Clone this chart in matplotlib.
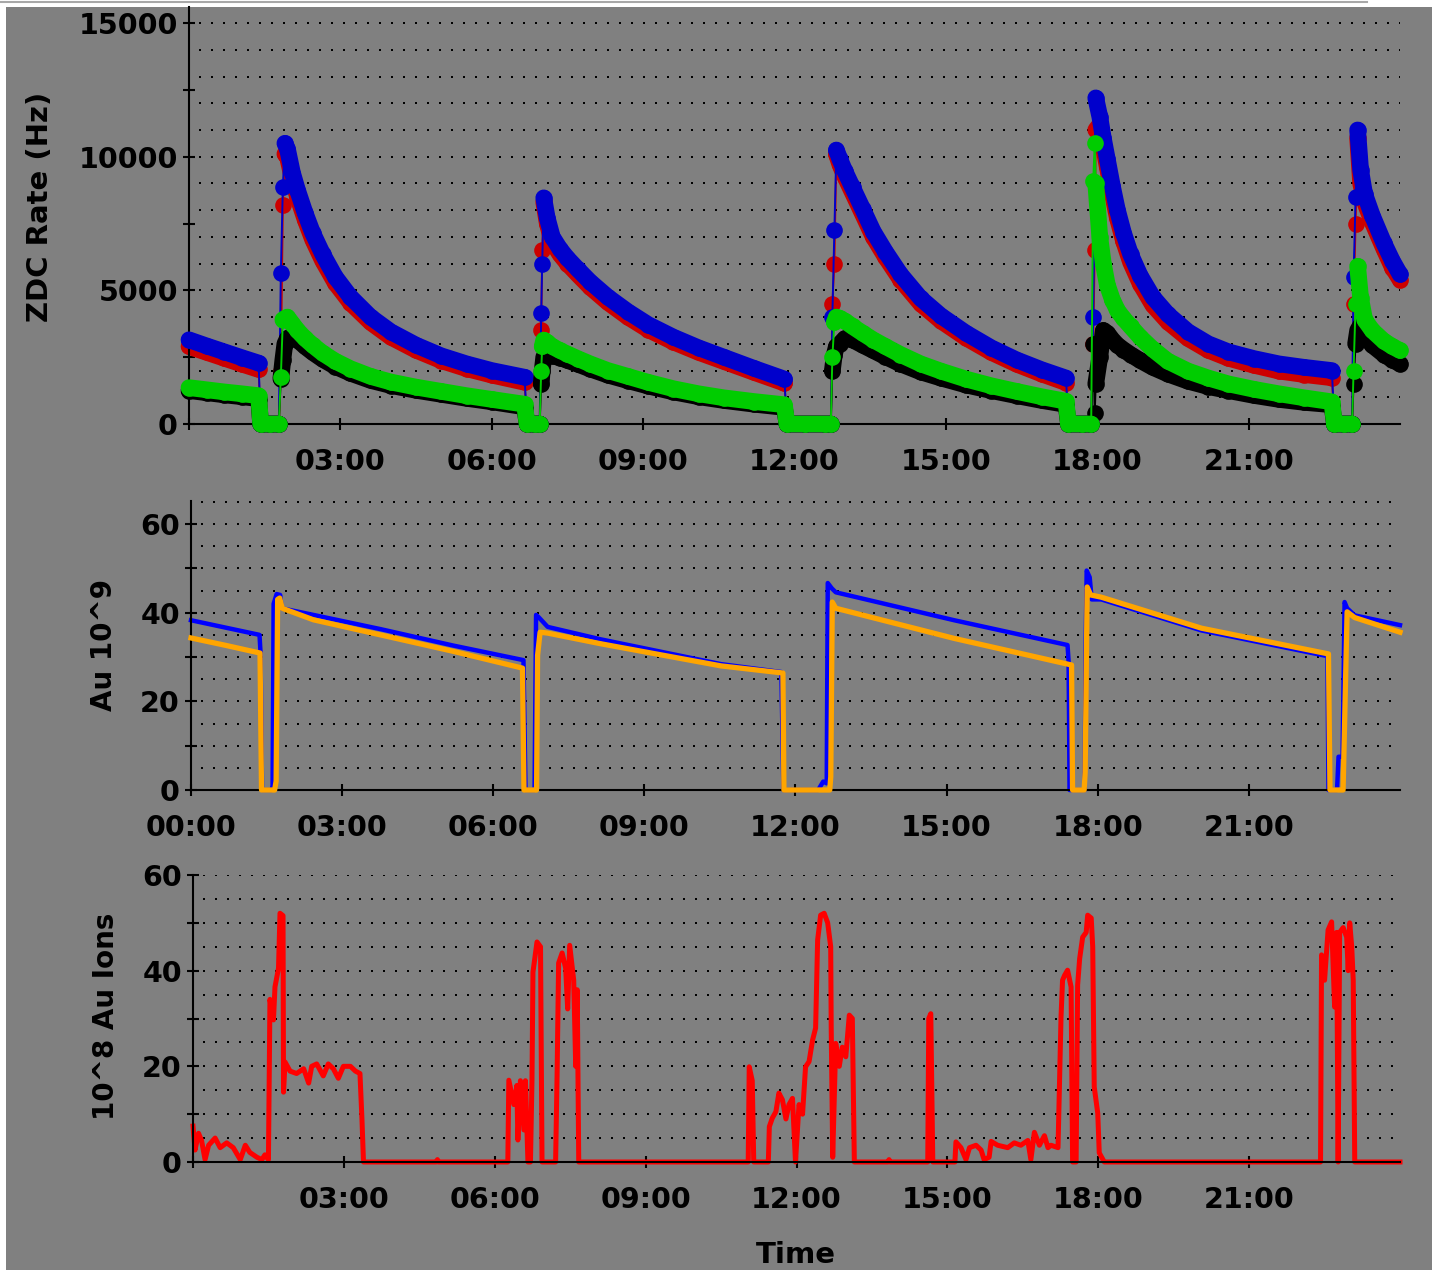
import numpy as np
import matplotlib
matplotlib.use("Agg")
import matplotlib.pyplot as plt
from matplotlib.patches import Rectangle
from matplotlib.lines import Line2D

plt.rcParams["font.family"] = ["DejaVu Sans"]
plt.rcParams["font.weight"] = "bold"
plt.rcParams["lines.scale_dashes"] = False

W, H = 1432, 1274

# ---- time axis (hours of the day) ----
hour_ticks = [0, 3, 6, 9, 12, 15, 18, 21]
hour_labels = ["00:00", "03:00", "06:00", "09:00", "12:00", "15:00", "18:00", "21:00"]

# ---- ZDC coincidence rates (Hz), common sample times (hours) ----
zdc_hours = [
    0.0, 0.35, 0.7, 1.05, 1.38,
    1.42, 1.6, 1.78,
    1.82, 1.86, 1.90,
    1.95, 2.05, 2.15, 2.3, 2.45, 2.65, 2.9, 3.2, 3.6, 4.0, 4.5, 5.0, 5.5, 6.0, 6.65,
    6.70, 6.85, 6.95,
    6.98, 7.00, 7.03,
    7.1, 7.2, 7.35, 7.5, 7.7, 7.95, 8.3, 8.7, 9.1, 9.6, 10.1, 10.6, 11.2, 11.8,
    11.85, 12.2, 12.6, 12.72,
    12.75, 12.79, 12.83,
    12.9, 13.0, 13.15, 13.35, 13.56, 13.8, 14.1, 14.5, 14.9, 15.4, 15.9, 16.4, 16.9, 17.38,
    17.43, 17.7, 17.88,
    17.92, 17.95, 17.97,
    18.05, 18.12, 18.2, 18.3, 18.4, 18.52, 18.66, 18.85, 19.1, 19.4, 19.8, 20.2, 20.6,
    21.1, 21.6, 22.1, 22.65,
    22.7, 22.9, 23.05,
    23.08, 23.12, 23.16,
    23.22, 23.3, 23.45, 23.68, 23.85, 24.0,
]
zdc_blue = [
    3150, 2920, 2700, 2480, 2280,
    0, 0, 0,
    5650, 8870, 10500,
    10300, 9400, 8750, 7900, 7150, 6350, 5500, 4750, 4000, 3450, 2950, 2550, 2250, 2000, 1750,
    0, 0, 0,
    4150, 6000, 8460,
    7700, 7000, 6550, 6200, 5800, 5320, 4750, 4200, 3720, 3250, 2850, 2500, 2080, 1680,
    0, 0, 0, 0,
    4000, 7250, 10250,
    9900, 9450, 8850, 8050, 7200, 6450, 5600, 4700, 4050, 3400, 2850, 2400, 2030, 1720,
    0, 0, 0,
    4000, 9000, 12200,
    11500, 10700, 9900, 8900, 8000, 7150, 6350, 5550, 4750, 4100, 3450, 3000, 2700,
    2450, 2250, 2120, 2000,
    0, 0, 0,
    5500, 8500, 11000,
    9500, 8600, 7800, 6770, 6100, 5600,
]
zdc_red = [
    2900, 2680, 2460, 2240, 2040,
    0, 0, 0,
    2000, 8200, 10100,
    10000, 9150, 8500, 7650, 6900, 6100, 5270, 4530, 3800, 3250, 2760, 2370, 2070, 1830, 1560,
    0, 0, 0,
    3500, 6500, 8300,
    7500, 6800, 6350, 6000, 5600, 5120, 4550, 4000, 3530, 3070, 2680, 2340, 1930, 1530,
    0, 0, 0, 0,
    4500, 6000, 10100,
    9700, 9250, 8650, 7850, 7000, 6250, 5400, 4500, 3860, 3220, 2680, 2240, 1870, 1550,
    0, 0, 0,
    3000, 6500, 11000,
    11200, 10400, 9600, 8600, 7700, 6850, 6050, 5250, 4450, 3820, 3200, 2760, 2460,
    2200, 1980, 1850, 1730,
    0, 0, 0,
    4500, 7500, 10700,
    9000, 8300, 7550, 6550, 5850, 5400,
]
zdc_green = [
    1360, 1280, 1200, 1130, 1060,
    0, 0, 0,
    1760, 3900, 3950,
    4000, 3750, 3500, 3200, 2950, 2650, 2350, 2070, 1780, 1570, 1380, 1220, 1060, 920, 740,
    0, 0, 0,
    2000, 2900, 3140,
    3050, 2900, 2750, 2620, 2450, 2250, 2000, 1780, 1560, 1320, 1130, 980, 840, 720,
    0, 0, 0, 0,
    2500, 3800, 4000,
    3950, 3850, 3650, 3400, 3150, 2900, 2600, 2250, 1980, 1680, 1430, 1220, 1020, 850,
    0, 0, 0,
    9100, 10500, 9000,
    7000, 6000, 5200, 4650, 4250, 3950, 3650, 3250, 2800, 2350, 1980, 1720, 1500,
    1300, 1130, 980, 830,
    0, 0, 0,
    2000, 4500, 5900,
    4700, 3900, 3500, 3100, 2900, 2750,
]
zdc_black = [
    1250, 1170, 1090, 1020, 950,
    0, 0, 0,
    1700, 2400, 3000,
    3200, 3300, 3150, 2900, 2680, 2420, 2150, 1900, 1630, 1440, 1260, 1110, 960, 830, 640,
    0, 0, 0,
    1500, 2000, 2500,
    2600, 2550, 2480, 2380, 2240, 2060, 1830, 1620, 1420, 1200, 1020, 880, 740, 620,
    0, 0, 0, 0,
    2000, 2600, 2900,
    3000, 3200, 3150, 2950, 2750, 2520, 2250, 1950, 1720, 1460, 1250, 1060, 880, 730,
    0, 0, 0,
    3000, 400, 1500,
    2500, 3500, 3400, 3150, 2950, 2780, 2600, 2380, 2120, 1870, 1600, 1400, 1250,
    1070, 920, 810, 720,
    0, 0, 0,
    1500, 3000, 3500,
    3700, 3300, 2950, 2600, 2400, 2250,
]

# ---- stored beam intensity, Au 10^9 (hour, value) ----
ring_blue = [
    (0.0, 38.3), (0.7, 36.6), (1.36, 35.0), (1.38, 31.0), (1.41, 0), (1.60, 0), (1.62, 1.0),
    (1.64, 42.0), (1.70, 44.2), (1.77, 44.0), (1.80, 41.0), (2.43, 39.5), (3.76, 36.3),
    (5.2, 32.6), (6.60, 29.3), (6.64, 0), (6.82, 0), (6.85, 39.5), (6.90, 39.0), (7.08, 36.8),
    (8.13, 34.0), (10.52, 28.4), (11.72, 26.6), (11.76, 0), (12.45, 0), (12.55, 1.9),
    (12.62, 1.5), (12.64, 46.7), (12.72, 45.5), (12.80, 44.6), (15.15, 38.3), (17.40, 32.7),
    (17.42, 29.3), (17.43, 16.5), (17.44, 0), (17.74, 0), (17.76, 32.0), (17.78, 49.5),
    (17.84, 48.0), (17.88, 43.0), (18.07, 43.0), (20.06, 36.0), (22.56, 30.2), (22.58, 0),
    (22.75, 0), (22.78, 7.5), (22.86, 7.5), (22.90, 42.4), (22.95, 41.0), (23.10, 39.4),
    (24.0, 37.2),
]
ring_orange = [
    (0.0, 34.3), (0.7, 32.6), (1.37, 30.9), (1.40, 0), (1.66, 0), (1.69, 2.0), (1.72, 43.0),
    (1.76, 43.3), (1.81, 41.0), (2.43, 38.4), (3.76, 35.0), (5.2, 31.3), (6.58, 27.5),
    (6.61, 0), (6.86, 0), (6.88, 30.4), (6.93, 35.6), (7.08, 35.4), (8.13, 33.0),
    (10.52, 28.0), (11.75, 26.4), (11.77, 0), (12.68, 0), (12.70, 3.0), (12.73, 42.4),
    (12.80, 41.0), (15.15, 34.2), (17.48, 28.2), (17.50, 0), (17.73, 0), (17.75, 4.0),
    (17.79, 45.8), (17.86, 44.0), (18.07, 43.5), (20.06, 36.5), (22.58, 30.7), (22.61, 0),
    (22.87, 0), (22.88, 5.0), (22.95, 40.2), (23.10, 38.9), (24.0, 35.6),
]

# ---- injected Au ions, 10^8 (hour, value) ----
injected = [
    (0.0, 7.5), (0.04, 2.5), (0.11, 6), (0.17, 4.5), (0.24, 0.5), (0.31, 3.5), (0.44, 5.0),
    (0.54, 3), (0.67, 4), (0.80, 3), (0.94, 0.5), (1.04, 3.5), (1.13, 2), (1.27, 1),
    (1.37, 0.5), (1.43, 1.5), (1.50, 0.5), (1.53, 34), (1.60, 29.7), (1.63, 36.6),
    (1.70, 40.5), (1.73, 52), (1.79, 51.5), (1.80, 14.6), (1.83, 20.9), (1.93, 19),
    (2.06, 18.5), (2.20, 19.5), (2.30, 16.5), (2.36, 20), (2.46, 20.5), (2.59, 18),
    (2.69, 20.5), (2.79, 19.5), (2.89, 17.5), (2.99, 20), (3.13, 20), (3.23, 19),
    (3.32, 18.5), (3.36, 8.8), (3.39, 0), (4.84, 0), (4.86, 0.5), (4.88, 0),
    (6.26, 0), (6.28, 17.1), (6.34, 14), (6.38, 12), (6.44, 16), (6.46, 4.6), (6.51, 17),
    (6.58, 6.7), (6.61, 17), (6.66, 0), (6.71, 0), (6.74, 17), (6.76, 39.7), (6.84, 46),
    (6.91, 45), (6.94, 0), (7.21, 0), (7.24, 18.6), (7.27, 41.6), (7.34, 43.7), (7.41, 40.5),
    (7.45, 32), (7.49, 45.3), (7.54, 40.8), (7.57, 38), (7.61, 20), (7.64, 36), (7.67, 0),
    (11.04, 0), (11.06, 19.9), (11.12, 17), (11.15, 0), (11.44, 0), (11.46, 7.4),
    (11.52, 9.2), (11.59, 10.5), (11.65, 14.4), (11.72, 13), (11.79, 9), (11.85, 12),
    (11.92, 13.3), (11.98, 0), (12.05, 12), (12.12, 10), (12.18, 19.9), (12.25, 21),
    (12.32, 25.5), (12.38, 28), (12.42, 46.4), (12.48, 51.6), (12.55, 52), (12.62, 50),
    (12.68, 45), (12.69, 28.2), (12.72, 1), (12.78, 24.8), (12.85, 20), (12.91, 24),
    (12.98, 22), (13.05, 30.7), (13.11, 30), (13.15, 0), (13.82, 0), (13.84, 0.5),
    (13.86, 0), (14.61, 0), (14.63, 30), (14.67, 31), (14.71, 0), (15.15, 0), (15.17, 4.2),
    (15.27, 3), (15.37, 0.5), (15.44, 3), (15.57, 3.5), (15.67, 2.5), (15.73, 0.5),
    (15.83, 1), (15.87, 4.3), (16.0, 3.5), (16.2, 3), (16.33, 4), (16.46, 3.5), (16.6, 4.5),
    (16.66, 0.5), (16.73, 6.2), (16.83, 3.5), (16.93, 5.5), (17.0, 3), (17.06, 3.5),
    (17.2, 3), (17.26, 30.4), (17.29, 38), (17.33, 39), (17.39, 40.1), (17.46, 36.6),
    (17.49, 0), (17.56, 0), (17.59, 37), (17.63, 42.5), (17.69, 47), (17.76, 48),
    (17.79, 51.6), (17.86, 51), (17.89, 45), (17.92, 15.7), (17.99, 10.2), (18.02, 1.9),
    (18.12, 0), (22.42, 0), (22.44, 43.3), (22.5, 38), (22.57, 48.5), (22.64, 50.2),
    (22.7, 32.4), (22.74, 48), (22.77, 0), (22.8, 48), (22.87, 49), (22.94, 47), (22.97, 40),
    (23.0, 50), (23.04, 45), (23.07, 38), (23.1, 0), (24.0, 0),
]

GREY = "#808080"

fig = plt.figure(figsize=(W / 100, H / 100), dpi=100, facecolor="white")
fig.patches.append(Rectangle((6 / W, 4 / H), 1 - 6 / W, 1 - 11 / H,
                             transform=fig.transFigure, facecolor=GREY,
                             edgecolor="none", zorder=-10))
fig.lines.append(Line2D([0, 1367 / W], [1 - 1.5 / H] * 2, transform=fig.transFigure,
                        color="#a8a8a8", lw=1.5))


def px_axes(left, right, top, bottom):
    return fig.add_axes([left / W, 1 - bottom / H, (right - left) / W, (bottom - top) / H])


def frame(ax, ymax, tick_step, label_step, grid_step, xlabels):
    ax.set_facecolor("none")
    ax.set_xlim(0, 24)
    ax.set_ylim(0, ymax)
    for s in ("top", "right"):
        ax.spines[s].set_visible(False)
    for s in ("left", "bottom"):
        ax.spines[s].set_linewidth(1.5)
        ax.spines[s].set_color("black")
    ax.set_xticks(hour_ticks)
    ax.set_xticklabels(xlabels)
    yt = np.arange(0, ymax + 1e-9, tick_step)
    ax.set_yticks(yt)
    ax.set_yticklabels([f"{v:.0f}" if v % label_step == 0 else "" for v in yt])
    ax.tick_params(axis="both", direction="inout", length=8, width=1.5,
                   labelsize=20.5, colors="black")
    ax.tick_params(axis="x", pad=13)
    ax.tick_params(axis="y", pad=4)
    levels = np.arange(grid_step, ymax + 1e-9, grid_step)
    ax.hlines(levels, 0, 24, colors="black", linewidth=1.44,
              linestyles=[(1.44, (1.44, 7.2))], zorder=0.5)


def zdc_band(ax, t, v, color, z):
    """Dense-marker trace: a thin connecting line, a wide band along the slow
    decays, and a dot at every sample."""
    t = np.asarray(t, float)
    v = np.asarray(v, float)
    ax.plot(t, v, color=color, lw=1.4, zorder=z, clip_on=False)
    dv = np.diff(v)
    steep = (np.abs(dv) > 800) & (np.abs(dv / np.diff(t)) > 30000)
    bt, bv = [t[0]], [v[0]]
    for i in range(1, len(t)):
        if steep[i - 1]:
            bt.append(np.nan)
            bv.append(np.nan)
        bt.append(t[i])
        bv.append(v[i])
    ax.plot(bt, bv, color=color, lw=12, solid_capstyle="round",
            solid_joinstyle="round", zorder=z, clip_on=False)
    ax.plot(t, v, "o", color=color, ms=12, mew=0, zorder=z, clip_on=False)


ax1 = px_axes(189, 1400, 7, 424)
ax2 = px_axes(191, 1400, 501, 790)
ax3 = px_axes(193, 1400, 875, 1162)

frame(ax1, 15600, 2500, 5000, 1000, [""] + hour_labels[1:])
frame(ax2, 65.2, 10, 20, 5, hour_labels)
frame(ax3, 60, 10, 20, 5, [""] + hour_labels[1:])

zdc_band(ax1, zdc_hours, zdc_red, "#cc0000", 2)
zdc_band(ax1, zdc_hours, zdc_blue, "#0000cc", 3)
zdc_band(ax1, zdc_hours, zdc_black, "#000000", 4)
zdc_band(ax1, zdc_hours, zdc_green, "#00cc00", 5)

bt, bv = zip(*ring_blue)
ot, ov = zip(*ring_orange)
ax2.plot(bt, bv, color="#0000ff", lw=3.2, zorder=2, clip_on=False)
ax2.plot(ot, ov, color="#ffa500", lw=3.8, zorder=3, clip_on=False)

it, iv = zip(*injected)
ax3.plot(it, iv, color="#ff0000", lw=3.6, zorder=2, clip_on=False)

fig.text(40 / W, 1 - 207 / H, "ZDC Rate (Hz)", rotation=90, ha="center", va="center", fontsize=21)
fig.text(104 / W, 1 - 645 / H, "Au 10^9", rotation=90, ha="center", va="center", fontsize=20)
fig.text(106 / W, 1 - 1016 / H, "10^8 Au Ions", rotation=90, ha="center", va="center", fontsize=20)
fig.text(796 / W, 1 - 1255 / H, "Time", ha="center", va="center", fontsize=21)

fig.savefig("out.png", dpi=100, facecolor="white")
